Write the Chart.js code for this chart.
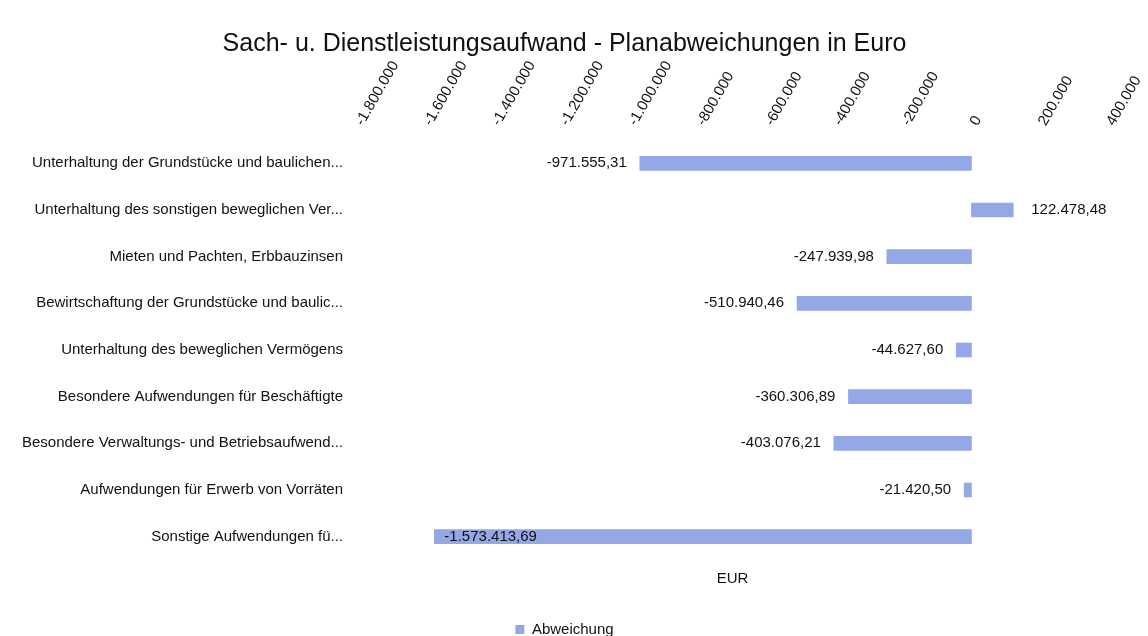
<!DOCTYPE html>
<html>
<head>
<meta charset="utf-8">
<script src="https://cdn.jsdelivr.net/npm/chart.js@4/dist/chart.umd.min.js"></script>
<style>
  html, body { margin: 0; padding: 0; background: #fff; }
  #wrap { width: 1148px; height: 636px; }
</style>
</head>
<body>
<div id="wrap"><canvas id="chart"></canvas></div>
<script>
const kategorien = [
    'Unterhaltung der Grundstücke und baulichen...',
    'Unterhaltung des sonstigen beweglichen Ver...',
    'Mieten und Pachten, Erbbauzinsen',
    'Bewirtschaftung der Grundstücke und baulic...',
    'Unterhaltung des beweglichen Vermögens',
    'Besondere Aufwendungen für Beschäftigte',
    'Besondere Verwaltungs- und Betriebsaufwend...',
    'Aufwendungen für Erwerb von Vorräten',
    'Sonstige Aufwendungen fü...'
];
const abweichung = [-971555.31, 122478.48, -247939.98, -510940.46, -44627.60, -360306.89, -403076.21, -21420.50, -1573413.69];
const achseMin = -1800000;
const achseMax = 400000;
const achseSchritt = 200000;

const schrift = 'Liberation Sans, Arial, sans-serif';
const farbe = '#94a8e6';

// deutsche Zahlenformatierung: 1.234.567,89
function formatDE(v, nachkomma) {
    const neg = v < 0;
    let s = Math.abs(v).toFixed(nachkomma);
    let [ganz, rest] = s.split('.');
    ganz = ganz.replace(/\B(?=(\d{3})+(?!\d))/g, '.');
    return (neg ? '-' : '') + ganz + (rest ? ',' + rest : '');
}

const wertLabels = {
    id: 'wertLabels',
    afterDatasetsDraw(chart) {
        const c = chart.ctx;
        const meta = chart.getDatasetMeta(0);
        c.save();
        c.font = '15px ' + schrift;
        c.fillStyle = '#111';
        c.textBaseline = 'middle';
        meta.data.forEach((bar, i) => {
            const v = abweichung[i];
            const txt = formatDE(v, 2);
            const w = c.measureText(txt).width;
            if (v >= 0) {
                c.textAlign = 'left';
                c.fillText(txt, bar.x + 18, bar.y);
            } else if (bar.x - 13 - w < chart.chartArea.left - 5) {
                // kein Platz links vom Balken -> in den Balken schreiben
                c.textAlign = 'left';
                c.fillText(txt, bar.x + 10, bar.y);
            } else {
                c.textAlign = 'right';
                c.fillText(txt, bar.x - 13, bar.y);
            }
        });
        c.restore();
    }
};

new Chart(document.getElementById('chart'), {
    type: 'bar',
    data: {
        labels: kategorien,
        datasets: [{
            label: 'Abweichung',
            data: abweichung,
            backgroundColor: farbe,
            barThickness: 14,
            xAxisID: 'x'
        }]
    },
    options: {
        indexAxis: 'y',
        responsive: true,
        maintainAspectRatio: false,
        animation: false,
        layout: { padding: { left: 0, right: 19, top: 0, bottom: -11 } },
        scales: {
            x: {
                position: 'top',
                min: achseMin,
                max: achseMax,
                grid: { display: false, drawTicks: false },
                border: { display: false },
                ticks: {
                    stepSize: achseSchritt,
                    minRotation: 60,
                    maxRotation: 60,
                    padding: 11,
                    labelOffset: 18,
                    color: '#111',
                    font: { family: schrift, size: 15 },
                    callback: (v) => formatDE(v, 0)
                },
                afterFit(s) { s.height = 81; s.paddingLeft = 0; s.paddingRight = 40; }
            },
            x2: {
                position: 'bottom',
                min: achseMin,
                max: achseMax,
                grid: { display: false, drawTicks: false },
                border: { display: false },
                ticks: { display: false },
                title: {
                    display: true,
                    text: 'EUR',
                    color: '#111',
                    font: { family: schrift, size: 15 },
                    padding: { top: 10, bottom: 30 }
                }
            },
            y: {
                grid: { display: false, drawTicks: false },
                border: { display: false },
                ticks: {
                    padding: 14,
                    color: '#111',
                    font: { family: schrift, size: 15 }
                },
                afterFit(s) { s.width = 357; }
            }
        },
        plugins: {
            title: {
                display: true,
                text: 'Sach- u. Dienstleistungsaufwand - Planabweichungen in Euro',
                color: '#111',
                font: { family: schrift, size: 25, weight: 'normal' },
                padding: { top: 29, bottom: 0 }
            },
            legend: {
                position: 'bottom',
                labels: {
                    color: '#111',
                    font: { family: schrift, size: 15 },
                    boxWidth: 9,
                    boxHeight: 9,
                    padding: 4
                }
            },
            tooltip: { enabled: false }
        }
    },
    plugins: [wertLabels]
});
</script>
</body>
</html>
